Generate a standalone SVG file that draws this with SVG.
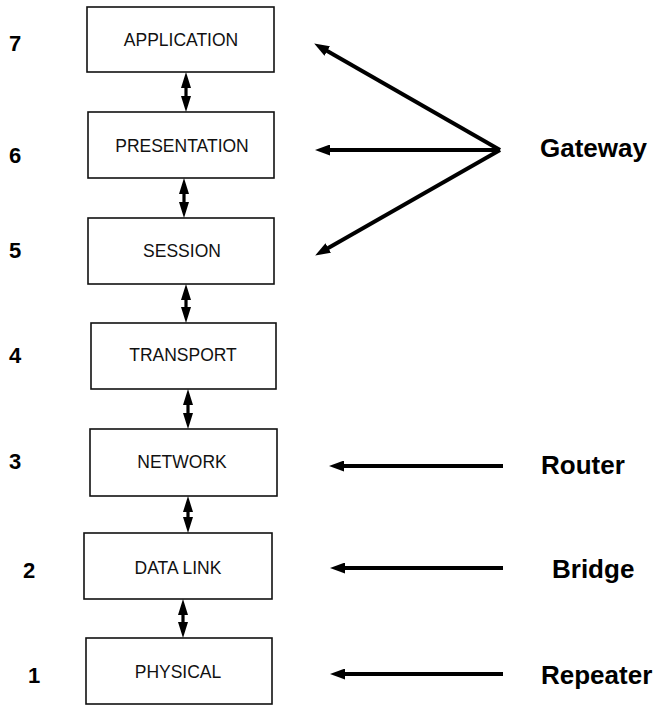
<svg xmlns="http://www.w3.org/2000/svg" width="662" height="706" viewBox="0 0 662 706">
  <style>
    .box { fill: #fff; stroke: #111; stroke-width: 1.6; }
    .lbl { font-family: "Liberation Sans", Arial, sans-serif; font-size: 17.5px; fill: #111; text-anchor: middle; }
    .num { font-family: "Liberation Sans", Arial, sans-serif; font-size: 22px; font-weight: bold; fill: #000; }
    .dev { font-family: "Liberation Sans", Arial, sans-serif; font-size: 26px; font-weight: bold; fill: #000; }
    .link { stroke: #000; stroke-width: 3.2; fill: none; marker-start: url(#vhead); marker-end: url(#vhead); }
    .feed { stroke: #000; stroke-width: 4; fill: none; marker-end: url(#head); }
  </style>
  <defs>
    <marker id="vhead" markerUnits="userSpaceOnUse" markerWidth="16" markerHeight="10" refX="10" refY="5" orient="auto-start-reverse">
      <path d="M0,0 L16,5 L0,10 z" fill="#000"/>
    </marker>
    <marker id="head" markerUnits="userSpaceOnUse" markerWidth="15" markerHeight="11" refX="6" refY="5.5" orient="auto">
      <path d="M0,0 L15,5.5 L0,11 z" fill="#000"/>
    </marker>
  </defs>
  <rect width="662" height="706" fill="#fff"/>

  <!-- layer numbers -->
  <g id="numbers">
    <text class="num" x="9" y="51">7</text>
    <text class="num" x="9" y="163">6</text>
    <text class="num" x="9" y="258">5</text>
    <text class="num" x="9" y="363">4</text>
    <text class="num" x="9" y="469">3</text>
    <text class="num" x="23" y="578">2</text>
    <text class="num" x="28" y="683">1</text>
  </g>

  <!-- protocol layers -->
  <g id="application">
    <rect class="box" x="87" y="7" width="187" height="65"/>
    <text class="lbl" x="181" y="46">APPLICATION</text>
  </g>
  <g id="presentation">
    <rect class="box" x="88" y="112" width="186" height="66"/>
    <text class="lbl" x="182" y="152">PRESENTATION</text>
  </g>
  <g id="session">
    <rect class="box" x="88" y="218" width="186" height="66"/>
    <text class="lbl" x="182" y="257">SESSION</text>
  </g>
  <g id="transport">
    <rect class="box" x="91" y="323" width="185" height="66"/>
    <text class="lbl" x="183" y="361">TRANSPORT</text>
  </g>
  <g id="network">
    <rect class="box" x="90" y="429" width="187" height="67"/>
    <text class="lbl" x="182" y="468">NETWORK</text>
  </g>
  <g id="data-link">
    <rect class="box" x="84" y="533" width="188" height="66"/>
    <text class="lbl" x="178" y="574">DATA LINK</text>
  </g>
  <g id="physical">
    <rect class="box" x="86" y="638" width="186" height="66"/>
    <text class="lbl" x="178" y="678">PHYSICAL</text>
  </g>

  <!-- devices -->
  <g id="gateway">
    <text class="dev" x="540" y="157">Gateway</text>
  </g>
  <g id="router">
    <text class="dev" x="541" y="474">Router</text>
  </g>
  <g id="bridge">
    <text class="dev" x="552" y="578">Bridge</text>
  </g>
  <g id="repeater">
    <text class="dev" x="541" y="684">Repeater</text>
  </g>

  <!-- connectors -->
  <g id="connectors">
    <line class="link" x1="186" y1="78" x2="186" y2="106"/>
    <line class="link" x1="184" y1="184" x2="184" y2="212"/>
    <line class="link" x1="186" y1="290" x2="186" y2="317"/>
    <line class="link" x1="188" y1="395" x2="188" y2="423"/>
    <line class="link" x1="188" y1="502" x2="188" y2="527"/>
    <line class="link" x1="183" y1="605" x2="183" y2="632"/>

    <line class="feed" x1="500" y1="150" x2="322" y2="48"/>
    <line class="feed" x1="500" y1="150" x2="324" y2="150"/>
    <line class="feed" x1="500" y1="150" x2="323" y2="251"/>

    <line class="feed" x1="503" y1="466" x2="338" y2="466"/>
    <line class="feed" x1="503" y1="568" x2="339" y2="568"/>
    <line class="feed" x1="503" y1="674" x2="339" y2="674"/>
  </g>
</svg>
